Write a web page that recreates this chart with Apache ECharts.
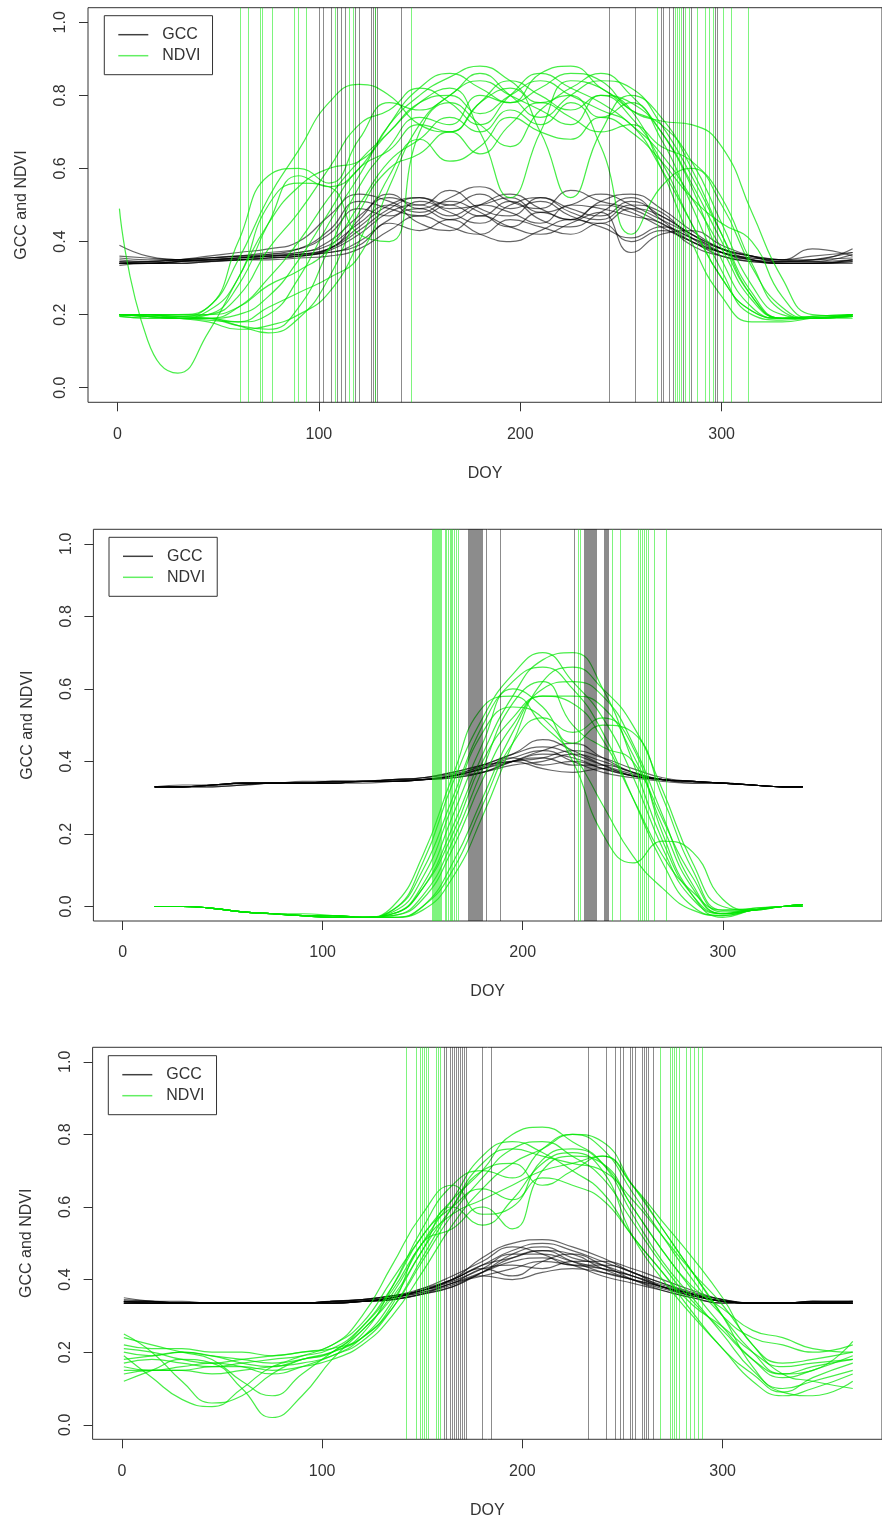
<!DOCTYPE html>
<html>
<head>
<meta charset="utf-8">
<script src="https://cdn.jsdelivr.net/npm/echarts@6/dist/echarts.min.js"></script>
<style>
  html, body { margin: 0; padding: 0; background: #fff; }
  #chart { width: 882px; height: 1520px; }
</style>
</head>
<body>
<div id="chart"></div>
<script>
// ---- sample days (DOY) ----
const doyFull = [1,15,30,45,60,75,90,105,120,135,150,165,180,195,210,225,240,255,270,285,300,315,330,345,365];
const doyMid  = [16,30,45,60,75,90,105,120,135,150,165,180,195,210,225,240,255,270,285,300,315,330,340];

const xTicks = [0, 100, 200, 300];
const yTicks = [0, 0.2, 0.4, 0.6, 0.8, 1.0];

// ---- panel 1 ----
const gcc1 = [
  [0.39,0.36,0.35,0.345,0.35,0.355,0.36,0.38,0.44,0.50,0.52,0.49,0.50,0.52,0.48,0.50,0.53,0.50,0.46,0.42,0.38,0.36,0.345,0.345,0.35],
  [0.36,0.355,0.35,0.355,0.36,0.365,0.37,0.40,0.47,0.52,0.50,0.54,0.49,0.47,0.52,0.49,0.47,0.51,0.47,0.42,0.37,0.35,0.345,0.35,0.37],
  [0.34,0.34,0.345,0.35,0.355,0.36,0.365,0.37,0.40,0.46,0.49,0.46,0.50,0.53,0.49,0.46,0.50,0.48,0.44,0.40,0.37,0.35,0.34,0.34,0.345],
  [0.335,0.34,0.34,0.345,0.35,0.35,0.355,0.36,0.38,0.43,0.47,0.44,0.42,0.46,0.44,0.42,0.45,0.40,0.43,0.40,0.36,0.345,0.34,0.34,0.34],
  [0.345,0.345,0.35,0.36,0.37,0.38,0.40,0.47,0.53,0.51,0.48,0.52,0.55,0.51,0.49,0.54,0.51,0.49,0.45,0.41,0.38,0.36,0.35,0.38,0.36],
  [0.34,0.34,0.345,0.35,0.355,0.36,0.37,0.39,0.45,0.50,0.45,0.43,0.47,0.44,0.42,0.45,0.48,0.37,0.42,0.43,0.39,0.36,0.345,0.35,0.355],
  [0.35,0.345,0.35,0.355,0.36,0.37,0.38,0.42,0.49,0.47,0.51,0.48,0.45,0.50,0.52,0.48,0.46,0.50,0.48,0.41,0.37,0.355,0.35,0.35,0.38],
  [0.34,0.34,0.34,0.345,0.35,0.355,0.36,0.375,0.42,0.48,0.50,0.47,0.50,0.48,0.45,0.50,0.49,0.47,0.45,0.39,0.36,0.345,0.34,0.34,0.35],
  [0.34,0.345,0.35,0.355,0.36,0.36,0.365,0.38,0.46,0.53,0.49,0.51,0.48,0.44,0.48,0.46,0.51,0.53,0.49,0.43,0.38,0.36,0.35,0.345,0.365],
  [0.345,0.34,0.345,0.35,0.35,0.355,0.36,0.37,0.39,0.45,0.43,0.46,0.42,0.40,0.43,0.46,0.44,0.41,0.44,0.41,0.37,0.35,0.34,0.34,0.345],
  [0.355,0.35,0.35,0.35,0.355,0.365,0.38,0.43,0.51,0.49,0.47,0.50,0.47,0.51,0.46,0.44,0.48,0.52,0.46,0.40,0.37,0.355,0.35,0.36,0.37],
  [0.34,0.34,0.345,0.35,0.355,0.36,0.365,0.38,0.43,0.49,0.52,0.50,0.53,0.49,0.51,0.47,0.45,0.49,0.47,0.42,0.38,0.35,0.34,0.34,0.35]
];
const ndvi1 = [
  [0.49,0.13,0.04,0.15,0.30,0.45,0.55,0.60,0.62,0.70,0.78,0.80,0.75,0.80,0.84,0.80,0.76,0.72,0.60,0.45,0.30,0.21,0.19,0.195,0.20],
  [0.20,0.20,0.195,0.22,0.35,0.52,0.65,0.78,0.83,0.80,0.72,0.70,0.78,0.84,0.80,0.76,0.80,0.74,0.62,0.45,0.30,0.21,0.19,0.19,0.195],
  [0.20,0.195,0.19,0.20,0.28,0.45,0.58,0.55,0.60,0.72,0.80,0.85,0.88,0.84,0.78,0.82,0.86,0.80,0.70,0.55,0.35,0.22,0.19,0.195,0.20],
  [0.20,0.20,0.19,0.21,0.30,0.50,0.56,0.55,0.42,0.40,0.70,0.78,0.72,0.66,0.76,0.80,0.74,0.78,0.68,0.50,0.32,0.20,0.185,0.19,0.195],
  [0.20,0.195,0.19,0.19,0.22,0.30,0.40,0.52,0.62,0.70,0.78,0.82,0.70,0.52,0.70,0.84,0.82,0.76,0.72,0.62,0.45,0.28,0.20,0.19,0.20],
  [0.195,0.19,0.19,0.19,0.20,0.25,0.35,0.48,0.60,0.65,0.72,0.70,0.78,0.82,0.70,0.52,0.70,0.80,0.74,0.60,0.42,0.25,0.19,0.19,0.19],
  [0.20,0.20,0.20,0.20,0.22,0.28,0.32,0.38,0.50,0.62,0.68,0.74,0.70,0.76,0.72,0.78,0.66,0.42,0.55,0.60,0.50,0.33,0.22,0.19,0.20],
  [0.20,0.20,0.195,0.19,0.17,0.16,0.22,0.38,0.55,0.66,0.74,0.72,0.80,0.78,0.82,0.86,0.84,0.76,0.73,0.72,0.66,0.48,0.30,0.20,0.195],
  [0.20,0.20,0.19,0.18,0.16,0.17,0.20,0.26,0.40,0.58,0.68,0.62,0.66,0.74,0.70,0.68,0.74,0.70,0.62,0.52,0.45,0.40,0.25,0.19,0.20],
  [0.20,0.195,0.19,0.19,0.18,0.20,0.30,0.45,0.58,0.72,0.82,0.86,0.82,0.78,0.86,0.88,0.82,0.76,0.60,0.40,0.25,0.18,0.18,0.19,0.20],
  [0.20,0.20,0.20,0.22,0.40,0.58,0.60,0.56,0.68,0.78,0.76,0.80,0.86,0.80,0.74,0.80,0.84,0.82,0.72,0.58,0.42,0.26,0.19,0.19,0.195],
  [0.195,0.19,0.19,0.19,0.17,0.15,0.19,0.30,0.48,0.60,0.64,0.70,0.64,0.72,0.78,0.74,0.70,0.72,0.66,0.62,0.52,0.34,0.21,0.19,0.195],
  [0.20,0.20,0.195,0.20,0.25,0.38,0.48,0.60,0.72,0.76,0.82,0.78,0.72,0.80,0.86,0.82,0.78,0.72,0.64,0.52,0.38,0.24,0.19,0.19,0.20],
  [0.20,0.195,0.19,0.185,0.18,0.22,0.26,0.30,0.36,0.55,0.72,0.80,0.84,0.80,0.76,0.72,0.80,0.78,0.70,0.56,0.40,0.25,0.19,0.19,0.195]
];
const ndviDates1 = [61,65,71,72,77,88,90,94,108,115,117,128,146,268,277,278,279,280,282,284,288,292,294,296,301,305,313];
const gccDates1  = [100,102,106,109,111,113,118,120,126,127,128,129,141,244,257,270,271,274,276,281,285,297,298];

// ---- panel 2 ----
const gcc2 = [
  [0.33,0.33,0.335,0.34,0.34,0.34,0.34,0.345,0.345,0.35,0.36,0.38,0.40,0.42,0.41,0.38,0.36,0.35,0.345,0.34,0.335,0.33,0.33],
  [0.33,0.33,0.335,0.34,0.34,0.34,0.345,0.345,0.35,0.355,0.37,0.39,0.42,0.44,0.42,0.39,0.365,0.35,0.345,0.34,0.335,0.33,0.33],
  [0.33,0.33,0.33,0.335,0.34,0.34,0.34,0.34,0.345,0.35,0.355,0.37,0.40,0.43,0.45,0.41,0.37,0.35,0.345,0.34,0.335,0.33,0.33],
  [0.33,0.33,0.335,0.34,0.34,0.34,0.34,0.345,0.345,0.35,0.36,0.38,0.41,0.39,0.40,0.38,0.36,0.35,0.34,0.34,0.335,0.33,0.33],
  [0.33,0.335,0.335,0.34,0.34,0.345,0.345,0.345,0.35,0.355,0.365,0.385,0.41,0.43,0.40,0.37,0.355,0.345,0.34,0.34,0.335,0.33,0.33],
  [0.33,0.33,0.335,0.335,0.34,0.34,0.34,0.345,0.345,0.35,0.36,0.37,0.39,0.40,0.42,0.40,0.37,0.35,0.345,0.34,0.335,0.33,0.33],
  [0.33,0.33,0.335,0.34,0.34,0.34,0.345,0.345,0.35,0.35,0.36,0.38,0.40,0.38,0.37,0.38,0.36,0.35,0.345,0.34,0.335,0.33,0.33],
  [0.33,0.33,0.335,0.34,0.34,0.34,0.34,0.345,0.345,0.35,0.36,0.39,0.42,0.46,0.43,0.39,0.36,0.35,0.345,0.34,0.335,0.33,0.33],
  [0.33,0.33,0.33,0.335,0.34,0.34,0.34,0.345,0.345,0.35,0.355,0.37,0.40,0.41,0.39,0.39,0.37,0.35,0.345,0.34,0.335,0.33,0.33],
  [0.33,0.33,0.335,0.34,0.34,0.34,0.345,0.345,0.35,0.355,0.37,0.39,0.40,0.41,0.43,0.41,0.38,0.355,0.345,0.34,0.335,0.33,0.33]
];
const ndvi2 = [
  [0.0,0.0,-0.005,-0.015,-0.02,-0.025,-0.025,-0.03,-0.02,0.05,0.22,0.42,0.58,0.68,0.70,0.60,0.40,0.18,0.03,-0.02,-0.005,0.0,0.005],
  [0.0,0.0,-0.005,-0.015,-0.02,-0.02,-0.025,-0.03,-0.01,0.10,0.30,0.50,0.62,0.66,0.60,0.48,0.30,0.12,0.0,-0.025,-0.01,0.0,0.005],
  [0.0,0.0,-0.005,-0.015,-0.02,-0.025,-0.03,-0.03,-0.03,0.0,0.12,0.30,0.48,0.60,0.62,0.58,0.45,0.25,0.06,-0.02,-0.01,0.0,0.0],
  [0.0,0.0,-0.005,-0.015,-0.02,-0.025,-0.025,-0.03,0.0,0.14,0.36,0.55,0.58,0.50,0.42,0.28,0.14,0.05,-0.01,-0.025,-0.01,0.0,0.005],
  [0.0,0.0,-0.005,-0.015,-0.02,-0.025,-0.03,-0.03,-0.025,0.03,0.18,0.38,0.56,0.62,0.50,0.44,0.40,0.22,0.05,-0.02,-0.01,0.0,0.005],
  [0.0,0.0,-0.005,-0.015,-0.02,-0.025,-0.025,-0.03,-0.02,0.06,0.25,0.45,0.60,0.55,0.45,0.50,0.48,0.30,0.10,-0.01,-0.01,0.0,0.005],
  [0.0,0.0,-0.005,-0.015,-0.02,-0.025,-0.03,-0.03,-0.03,-0.01,0.08,0.25,0.45,0.62,0.66,0.60,0.50,0.32,0.12,0.0,-0.01,0.0,0.0],
  [0.0,0.0,-0.005,-0.015,-0.02,-0.025,-0.025,-0.03,-0.015,0.08,0.28,0.48,0.55,0.52,0.40,0.20,0.12,0.18,0.15,0.02,-0.01,0.0,0.005],
  [0.0,0.0,-0.005,-0.015,-0.02,-0.025,-0.025,-0.03,-0.02,0.05,0.20,0.40,0.52,0.58,0.58,0.55,0.42,0.24,0.08,-0.015,-0.01,0.0,0.005],
  [0.0,0.0,-0.005,-0.015,-0.02,-0.025,-0.03,-0.03,-0.03,0.0,0.10,0.28,0.45,0.52,0.48,0.52,0.44,0.20,0.03,-0.03,-0.01,0.0,0.0],
  [0.0,0.0,-0.005,-0.015,-0.02,-0.025,-0.025,-0.03,-0.01,0.12,0.34,0.52,0.64,0.70,0.62,0.52,0.36,0.16,0.02,-0.02,-0.01,0.0,0.005],
  [0.0,0.0,-0.005,-0.015,-0.02,-0.025,-0.03,-0.03,-0.025,0.02,0.16,0.35,0.50,0.58,0.56,0.46,0.30,0.14,0.04,-0.01,-0.005,0.0,0.005]
];
const ndviDates2 = [155,155.5,156,156.5,157,157.5,158,158.5,159,159.5,161.5,162,163,164,164.5,165,166,167,168,228,229,245,249,258,259,260,261,262,263,266,272];
const gccDates2  = [173,173.5,174,174.5,175,175.5,176,176.5,177,177.5,178,178.5,179,179.5,180,182,189,226,231,231.5,232,232.5,233,233.5,234,234.5,235,235.5,236,236.5,237,241,241.5,242,242.5,243];

// ---- panel 3 ----
const gcc3 = [
  [0.35,0.34,0.335,0.335,0.335,0.335,0.335,0.335,0.34,0.345,0.36,0.38,0.42,0.47,0.49,0.46,0.44,0.41,0.38,0.36,0.34,0.335,0.335,0.335,0.335],
  [0.34,0.34,0.335,0.335,0.335,0.335,0.335,0.34,0.34,0.35,0.37,0.40,0.44,0.48,0.50,0.48,0.45,0.42,0.39,0.365,0.345,0.335,0.335,0.34,0.34],
  [0.335,0.335,0.335,0.335,0.335,0.335,0.335,0.335,0.34,0.345,0.36,0.39,0.41,0.43,0.45,0.44,0.43,0.41,0.385,0.36,0.34,0.335,0.335,0.335,0.335],
  [0.34,0.335,0.335,0.335,0.335,0.335,0.335,0.34,0.345,0.355,0.37,0.40,0.43,0.41,0.45,0.47,0.44,0.40,0.37,0.35,0.335,0.335,0.335,0.335,0.34],
  [0.335,0.335,0.335,0.335,0.335,0.335,0.335,0.335,0.34,0.35,0.365,0.385,0.42,0.46,0.48,0.45,0.42,0.40,0.38,0.355,0.34,0.335,0.335,0.335,0.335],
  [0.34,0.34,0.34,0.335,0.335,0.335,0.335,0.34,0.345,0.35,0.375,0.41,0.45,0.49,0.47,0.44,0.44,0.42,0.38,0.355,0.34,0.335,0.335,0.34,0.34],
  [0.335,0.335,0.335,0.335,0.335,0.335,0.335,0.335,0.34,0.345,0.36,0.38,0.41,0.40,0.42,0.43,0.42,0.40,0.38,0.36,0.345,0.335,0.335,0.335,0.335],
  [0.34,0.335,0.335,0.335,0.335,0.335,0.335,0.34,0.34,0.35,0.37,0.40,0.46,0.50,0.51,0.49,0.46,0.42,0.39,0.36,0.34,0.335,0.335,0.335,0.34],
  [0.335,0.335,0.335,0.335,0.335,0.335,0.335,0.335,0.34,0.35,0.37,0.39,0.43,0.44,0.43,0.45,0.45,0.43,0.40,0.37,0.345,0.335,0.335,0.335,0.335],
  [0.34,0.34,0.335,0.335,0.335,0.335,0.335,0.34,0.345,0.355,0.375,0.40,0.44,0.46,0.48,0.47,0.43,0.40,0.375,0.355,0.34,0.335,0.335,0.34,0.34],
  [0.335,0.335,0.335,0.335,0.335,0.335,0.335,0.335,0.34,0.35,0.365,0.39,0.42,0.45,0.46,0.44,0.41,0.39,0.37,0.35,0.335,0.335,0.335,0.335,0.335],
  [0.345,0.34,0.335,0.335,0.335,0.335,0.335,0.34,0.345,0.355,0.37,0.395,0.43,0.47,0.47,0.45,0.43,0.41,0.38,0.36,0.34,0.335,0.335,0.34,0.335]
];
const ndvi3 = [
  [0.25,0.20,0.12,0.06,0.08,0.14,0.18,0.20,0.24,0.32,0.45,0.58,0.68,0.76,0.78,0.74,0.68,0.56,0.44,0.34,0.26,0.18,0.14,0.16,0.18],
  [0.20,0.19,0.20,0.19,0.18,0.17,0.19,0.22,0.28,0.40,0.52,0.62,0.70,0.80,0.82,0.78,0.72,0.58,0.45,0.35,0.25,0.15,0.10,0.12,0.15],
  [0.12,0.15,0.18,0.17,0.10,0.02,0.08,0.18,0.26,0.35,0.48,0.60,0.55,0.62,0.72,0.75,0.70,0.52,0.40,0.30,0.21,0.12,0.08,0.10,0.14],
  [0.16,0.15,0.15,0.16,0.16,0.15,0.16,0.18,0.22,0.30,0.42,0.55,0.65,0.72,0.76,0.80,0.76,0.64,0.52,0.40,0.30,0.24,0.22,0.20,0.22],
  [0.22,0.21,0.21,0.20,0.20,0.19,0.20,0.21,0.24,0.33,0.50,0.54,0.60,0.54,0.70,0.74,0.72,0.60,0.48,0.38,0.32,0.26,0.24,0.21,0.20],
  [0.18,0.19,0.20,0.19,0.17,0.16,0.18,0.20,0.27,0.38,0.52,0.60,0.65,0.62,0.68,0.66,0.62,0.52,0.42,0.33,0.27,0.20,0.16,0.17,0.18],
  [0.15,0.15,0.16,0.17,0.16,0.14,0.16,0.19,0.23,0.32,0.46,0.60,0.72,0.76,0.74,0.72,0.70,0.62,0.52,0.42,0.33,0.22,0.14,0.12,0.10],
  [0.19,0.13,0.07,0.05,0.10,0.16,0.18,0.20,0.25,0.38,0.54,0.66,0.70,0.68,0.76,0.80,0.78,0.66,0.54,0.42,0.30,0.16,0.09,0.08,0.12],
  [0.21,0.20,0.18,0.17,0.18,0.19,0.20,0.22,0.30,0.44,0.58,0.66,0.58,0.60,0.73,0.76,0.72,0.60,0.48,0.37,0.27,0.18,0.13,0.15,0.19],
  [0.14,0.15,0.15,0.14,0.15,0.16,0.17,0.19,0.24,0.34,0.48,0.60,0.70,0.72,0.66,0.70,0.74,0.66,0.56,0.46,0.35,0.22,0.17,0.18,0.20],
  [0.24,0.22,0.20,0.18,0.12,0.08,0.14,0.20,0.26,0.36,0.50,0.62,0.74,0.78,0.75,0.70,0.64,0.52,0.42,0.31,0.21,0.14,0.09,0.13,0.17],
  [0.17,0.18,0.17,0.16,0.17,0.18,0.19,0.21,0.27,0.37,0.50,0.58,0.62,0.66,0.70,0.72,0.74,0.66,0.54,0.42,0.30,0.20,0.14,0.15,0.23]
];
const ndviDates3 = [142,147,149,150,151,152,153,157,158,159,269,274,275,276,277,278.5,282,284,286,288,290];
const gccDates3  = [161,162,164,165,166,167,168,169,170,171,172,180,184.5,233,242,246.5,249,250.5,254,255,256.5,260,261,262,263,265.5];

// ---- styling ----
const GCC_COL = 'rgba(0,0,0,0.6)';
const NDVI_COL = 'rgba(0,230,0,0.72)';
const VGCC_COL = 'rgba(0,0,0,0.45)';
const VNDVI_COL = 'rgba(20,235,20,0.55)';
const FONT = '"Liberation Sans", Arial, sans-serif';

const panels = [
  { days: doyFull, gcc: gcc1, ndvi: ndvi1, vG: gccDates1, vN: ndviDates1,
    grid: { left: 88, top: 7.7, width: 801, height: 394.6 }, legend: { left: 104.3, top: 15.7 } },
  { days: doyMid, gcc: gcc2, ndvi: ndvi2, vG: gccDates2, vN: ndviDates2,
    grid: { left: 93.4, top: 529.3, width: 789.7, height: 391.7 }, legend: { left: 109, top: 537.3 } },
  { days: doyFull, gcc: gcc3, ndvi: ndvi3, vG: gccDates3, vN: ndviDates3,
    grid: { left: 92.6, top: 1047.3, width: 793.6, height: 392 }, legend: { left: 108.3, top: 1055.7 } }
];

const grids = [], xAxes = [], yAxes = [], legends = [], series = [];

panels.forEach((p, i) => {
  grids.push(Object.assign({ show: true, borderColor: '#333', borderWidth: 1, backgroundColor: 'transparent' }, p.grid));
  xAxes.push({
    type: 'value', gridIndex: i, min: -14.6, max: 379.6,
    name: 'DOY', nameLocation: 'middle', nameGap: 63,
    nameTextStyle: { fontSize: 16, color: '#333', fontFamily: FONT },
    axisLine: { show: false, onZero: false }, splitLine: { show: false },
    axisTick: { show: true, length: 9, customValues: xTicks, lineStyle: { color: '#333' } },
    axisLabel: { customValues: xTicks, margin: 24, fontSize: 16, color: '#333', fontFamily: FONT }
  });
  yAxes.push({
    type: 'value', gridIndex: i, min: -0.04, max: 1.04,
    name: 'GCC and NDVI', nameLocation: 'middle', nameGap: 58, nameRotate: 90,
    nameTextStyle: { fontSize: 16, color: '#333', fontFamily: FONT },
    axisLine: { show: false, onZero: false }, splitLine: { show: false },
    axisTick: { show: true, length: 9, customValues: yTicks, lineStyle: { color: '#333' } },
    axisLabel: { customValues: yTicks, rotate: 90, margin: 19, fontSize: 16, color: '#333', fontFamily: FONT,
      formatter: v => v.toFixed(1) }
  });
  legends.push({
    left: p.legend.left, top: p.legend.top, orient: 'vertical',
    backgroundColor: '#fff', borderColor: '#333', borderWidth: 1,
    padding: [11, 12, 11, 14], itemGap: 5, itemWidth: 30, itemHeight: 1.5, icon: 'rect',
    selectedMode: false,
    textStyle: { fontSize: 16, color: '#333', fontFamily: FONT, padding: [0, 0, 0, 9], lineHeight: 16 },
    data: [
      { name: 'GCC', itemStyle: { color: 'rgba(0,0,0,0.75)' } },
      { name: 'NDVI', itemStyle: { color: 'rgba(60,235,60,0.8)' } }
    ]
  });

  // vertical date lines
  [['GCC', p.vG, VGCC_COL], ['NDVI', p.vN, VNDVI_COL]].forEach(([name, vals, col]) => {
    series.push({
      type: 'line', name, xAxisIndex: i, yAxisIndex: i, data: [], silent: true,
      itemStyle: { color: col },
      markLine: {
        silent: true, symbol: ['none', 'none'], animation: false,
        label: { show: false }, emphasis: { disabled: true },
        lineStyle: { color: col, width: 1, type: 'solid' },
        data: vals.map(v => ({ xAxis: v }))
      }
    });
  });

  // curves
  [['GCC', p.gcc, GCC_COL], ['NDVI', p.ndvi, NDVI_COL]].forEach(([name, rows, col]) => {
    rows.forEach(r => {
      series.push({
        type: 'line', name, xAxisIndex: i, yAxisIndex: i,
        data: p.days.map((d, k) => [d, r[k]]),
        smooth: 0.5, symbol: 'none', showSymbol: false, silent: true,
        lineStyle: { color: col, width: 1.2 }, itemStyle: { color: col },
        emphasis: { disabled: true }, z: 3
      });
    });
  });
});

const chart = echarts.init(document.getElementById('chart'));
chart.setOption({
  animation: false,
  backgroundColor: '#fff',
  grid: grids,
  xAxis: xAxes,
  yAxis: yAxes,
  legend: legends,
  series: series
});
</script>
</body>
</html>
